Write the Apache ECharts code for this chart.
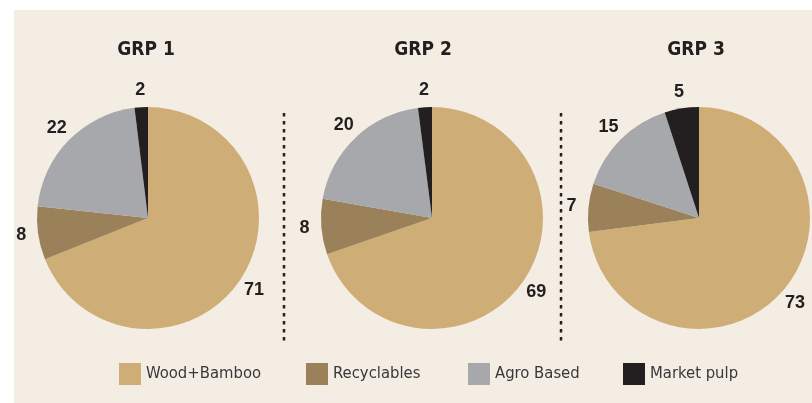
<!DOCTYPE html>
<html>
<head>
<meta charset="utf-8">
<script src="https://cdn.jsdelivr.net/npm/echarts@6/dist/echarts.min.js"></script>
<style>
html, body { margin: 0; padding: 0; background: #fff; }
#chart { width: 812px; height: 403px; }
</style>
</head>
<body>
<div id="chart"></div>
<script>
// fibre mix by group
var categories = ['Wood+Bamboo', 'Recyclables', 'Agro Based', 'Market pulp'];
var groups = ['GRP 1', 'GRP 2', 'GRP 3'];
var grp1 = [71, 8, 22, 2];
var grp2 = [69, 8, 20, 2];
var grp3 = [73, 7, 15, 5];

var colors = ['#cfad77', '#9a815a', '#a7a8ab', '#231f20'];
var ink = '#231f20';

var myChart = echarts.init(document.getElementById('chart'));

function toData(values) {
    return categories.map(function (c, i) {
        return { name: c, value: values[i] };
    });
}

var centersX = [148, 432, 699];
var titleX = [146, 423, 696];
var legendLeft = [119, 306, 468, 623];
var allValues = [grp1, grp2, grp3];

var series = [];
// visible pies
allValues.forEach(function (vals, i) {
    series.push({
        type: 'pie',
        left: 0, top: 0, width: 1200, height: 403,
        center: [centersX[i], 218],
        radius: 111,
        startAngle: 90,
        silent: true,
        label: { show: false },
        labelLine: { show: false },
        emphasis: { disabled: true },
        data: toData(vals)
    });
});
// transparent pies, only used to put the value labels at a fixed distance
allValues.forEach(function (vals, i) {
    series.push({
        type: 'pie',
        left: 0, top: 0, width: 1200, height: 403,
        center: [centersX[i], 218],
        radius: [0, 250],
        startAngle: 90,
        silent: true,
        z: 5,
        itemStyle: { color: 'rgba(0,0,0,0)' },
        label: {
            show: true,
            position: 'inside',
            formatter: '{c}',
            color: ink,
            fontSize: 18,
            fontWeight: 'bold',
            fontFamily: 'Liberation Sans'
        },
        labelLine: { show: false },
        emphasis: { disabled: true },
        data: toData(vals)
    });
});

var option = {
    backgroundColor: '#ffffff',
    color: colors,
    animation: false,
    title: groups.map(function (g, i) {
        return {
            text: g,
            left: titleX[i],
            top: 40,
            padding: 0,
            textAlign: 'center',
            textStyle: {
                color: ink,
                fontSize: 19,
                fontWeight: 'bold',
                lineHeight: 20,
                fontFamily: 'DejaVu Sans Condensed'
            }
        };
    }),
    legend: categories.map(function (c, i) {
        return {
            data: [c],
            left: legendLeft[i],
            top: 363,
            padding: 0,
            itemWidth: 22,
            itemHeight: 22,
            selectedMode: false,
            icon: 'rect',
            textStyle: {
                color: '#3a3738',
                fontSize: 16.5,
                fontFamily: 'DejaVu Sans Condensed'
            }
        };
    }),
    graphic: [
        {
            type: 'rect', z: -10, silent: true,
            shape: { x: 14, y: 10, width: 798, height: 393 },
            style: { fill: '#f4ede3' }
        },
        {
            type: 'line', silent: true,
            shape: { x1: 284, y1: 113, x2: 284, y2: 341 },
            style: { stroke: ink, lineWidth: 2.5, lineDash: [3.5, 4.5] }
        },
        {
            type: 'line', silent: true,
            shape: { x1: 561, y1: 113, x2: 561, y2: 341 },
            style: { stroke: ink, lineWidth: 2.5, lineDash: [3.5, 4.5] }
        }
    ],
    series: series
};

option && myChart.setOption(option);
</script>
</body>
</html>
